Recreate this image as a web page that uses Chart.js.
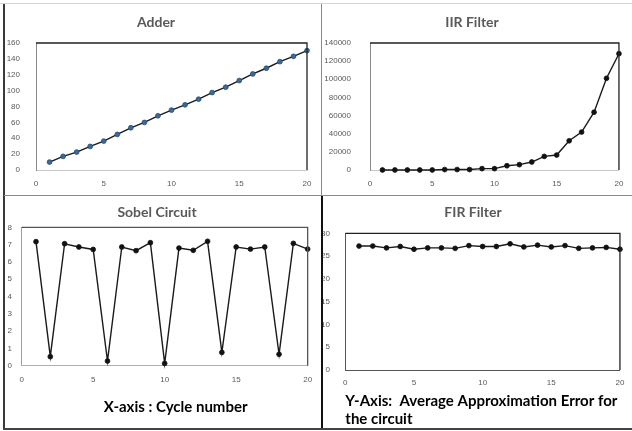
<!DOCTYPE html>
<html><head><meta charset="utf-8">
<script src="https://cdn.jsdelivr.net/npm/chart.js@4.4.1/dist/chart.umd.min.js"></script>
<style>
html,body{margin:0;padding:0;background:#fff;width:632px;height:431px;overflow:hidden;position:relative;}
canvas{position:absolute;z-index:1;}
.ln{position:absolute;z-index:2;}
</style></head><body>
<div class="ln" style="left:0;top:3px;width:632px;height:1px;background:#d4d4d4"></div>
<div class="ln" style="left:3px;top:4px;width:2px;height:426px;background:#3a3a3a"></div>
<div class="ln" style="left:4px;top:195px;width:628px;height:1px;background:#8a8a8a"></div>
<div class="ln" style="left:321px;top:4px;width:1px;height:191px;background:#8a8a8a"></div>
<div class="ln" style="left:321px;top:196px;width:2px;height:233px;background:#111"></div>
<div class="ln" style="left:3px;top:428px;width:629px;height:2px;background:#444"></div>
<canvas id="cA" width="316" height="190" style="left:5px;top:5px"></canvas>
<canvas id="cB" width="309" height="190" style="left:323px;top:5px"></canvas>
<canvas id="cC" width="316" height="232" style="left:5px;top:196px"></canvas>
<canvas id="cD" width="309" height="232" style="left:323px;top:196px"></canvas>
<script>
// ---- data ----
const cycles = [1,2,3,4,5,6,7,8,9,10,11,12,13,14,15,16,17,18,19,20];
const xTicks = [0,5,10,15,20];
const adderError = [10,17.2,22.6,29.7,36.4,44.8,53.2,59.9,68.3,75.4,82.1,89.2,97.6,104.3,112.7,121,128.2,136.5,143.2,150.4];
const iirError = [0,0,0,0,0,500,500,500,1500,1500,4700,5900,8800,15000,16500,32200,41800,63700,101100,128200];
const sobelError = [7.17,0.52,7.05,6.86,6.72,0.27,6.86,6.65,7.11,0.13,6.80,6.67,7.19,0.77,6.86,6.74,6.86,0.66,7.07,6.74];
const firError = [27.2,27.2,26.8,27.1,26.5,26.8,26.8,26.7,27.3,27.1,27.1,27.7,27.0,27.4,27.0,27.3,26.7,26.8,26.9,26.5];
const adderYTicks = [0,20,40,60,80,100,120,140,160];
const iirYTicks = [0,20000,40000,60000,80000,100000,120000,140000];
const sobelYTicks = [0,1,2,3,4,5,6,7,8];
const firYTicks = [0,5,10,15,20,25,30];
const titles = ['Adder','IIR Filter','Sobel Circuit','FIR Filter'];
const xAxisNote = 'X-axis : Cycle number';
const yAxisNote = ['Y-Axis:  Average Approximation Error for','the circuit'];

// ---- styling / builder ----
const tickFont = {family:"'Liberation Sans',sans-serif", size:8};
const titleFont = {family:"Lato,'Open Sans',sans-serif", size:14, weight:'bold'};
const noteFont = {family:"Lato,'Open Sans',sans-serif", size:15, weight:'bold'};

const frame = {
  id:'frame',
  afterDatasetsDraw(chart){
    const a = chart.chartArea, c = chart.ctx;
    c.save();
    c.strokeStyle = chart.options.plugins.frame.color; c.lineWidth = 1.3;
    c.beginPath();
    c.moveTo(a.left, a.top); c.lineTo(a.right, a.top); c.lineTo(a.right, a.bottom);
    c.stroke(); c.restore();
  }
};

function build(id, cfg){
  const yt = cfg.yTicks;
  new Chart(document.getElementById(id), {
    type:'line',
    data:{ datasets:[{
      data: cycles.map((c,i)=>({x:c, y:cfg.values[i]})),
      borderColor:'#1a1a1a', borderWidth:1.4, tension:0, clip:false,
      pointRadius:2.4, pointHoverRadius:2.4,
      pointBackgroundColor: cfg.pointColor, pointBorderColor: cfg.pointBorder, pointBorderWidth:0.8
    }]},
    options:{
      responsive:false, animation:false, events:[],
      layout:{padding:{left:0, top:0, right:cfg.padRight, bottom:0}},
      plugins:{
        legend:{display:false}, tooltip:{enabled:false},
        title:{display:true, text:cfg.title, color:'#595959', font:titleFont,
               padding:{top:cfg.tTop, bottom:cfg.tBottom}},
        frame:{color:cfg.frameColor}
      },
      scales:{
        x:{type:'linear', min:xTicks[0], max:xTicks[xTicks.length-1],
           afterBuildTicks(s){ s.ticks = xTicks.map(v=>({value:v})); },
           afterFit(s){ s.height = cfg.xHeight; },
           grid:{display:false, drawTicks:false},
           border:{display:true, color:cfg.bottomColor, width:1},
           ticks:{color:'#595959', font:tickFont, padding:cfg.xPad, maxRotation:0, callback:v=>String(v)},
           title: cfg.xTitle ? {display:true, text:cfg.xTitle, color:'#000', font:noteFont,
                  align:cfg.xTitleAlign, padding:{top:0,bottom:cfg.xTitlePadBottom}} : {display:false}
        },
        y:{type:'linear', min:yt[0], max:yt[yt.length-1],
           afterBuildTicks(s){ s.ticks = yt.map(v=>({value:v})); },
           afterFit(s){ s.width = cfg.yWidth; },
           grid:{display:false, drawTicks:false},
           border:{display:true, color:cfg.leftColor, width:1},
           ticks:{color:'#595959', font:tickFont, padding:cfg.yPad, callback:v=>String(v)}
        }
      }
    },
    plugins:[frame]
  });
}

build('cA', {values:adderError, yTicks:adderYTicks, title:titles[0],
  pointColor:'#3a6a9a', pointBorder:'#24496e', frameColor:'#222', bottomColor:'#c8c8c8', leftColor:'#8a8a8a',
  padRight:14, tTop:8.6, tBottom:12.6, xHeight:25, yWidth:31, yPad:16, xPad:8.6});
build('cB', {values:iirError, yTicks:iirYTicks, title:titles[1],
  pointColor:'#111', pointBorder:'#111', frameColor:'#222', bottomColor:'#c8c8c8', leftColor:'#8a8a8a',
  padRight:11, tTop:8.6, tBottom:12.6, xHeight:25, yWidth:47, yPad:19, xPad:8.6});
build('cC', {values:sobelError, yTicks:sobelYTicks, title:titles[2],
  pointColor:'#111', pointBorder:'#111', frameColor:'#555', bottomColor:'#b0b0b0', leftColor:'#a0a0a0',
  padRight:12, tTop:7.6, tBottom:6.9, xHeight:62.3, yWidth:16.7, yPad:9.7, xPad:8.9,
  xTitle:'      ' + xAxisNote, xTitleAlign:'center', xTitlePadBottom:12});
build('cD', {values:firError, yTicks:firYTicks, title:titles[3],
  pointColor:'#111', pointBorder:'#111', frameColor:'#222', bottomColor:'#555', leftColor:'#555',
  padRight:9, tTop:7.6, tBottom:12.9, xHeight:58, yWidth:22.3, yPad:15.3, xPad:7.6,
  xTitle:yAxisNote, xTitleAlign:'start', xTitlePadBottom:0});
</script>
</body></html>
